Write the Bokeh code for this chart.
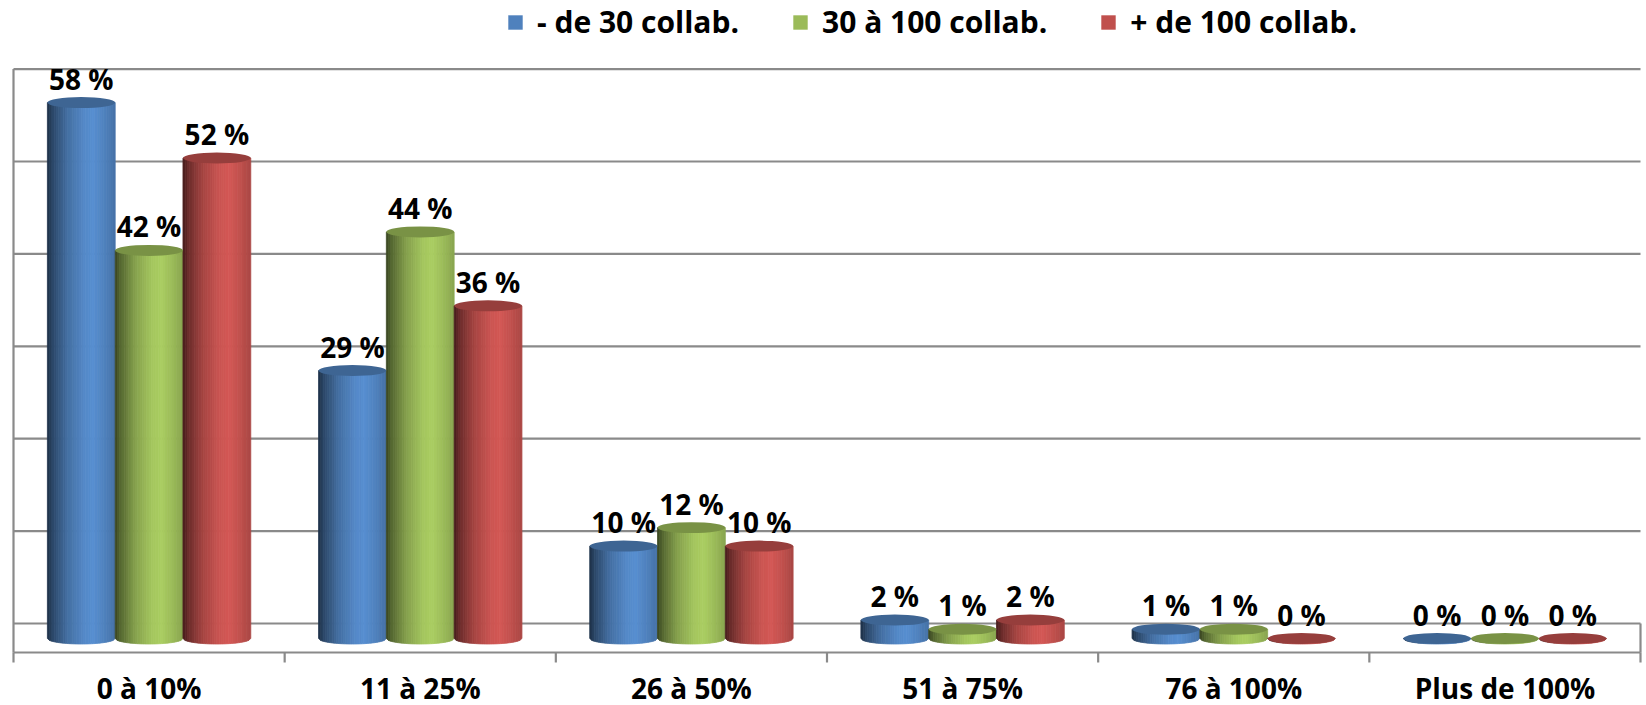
import numpy as np
from bokeh.plotting import figure
from bokeh.models import Range1d, Legend, LegendItem
from bokeh.embed import file_html
from bokeh.resources import INLINE
from bokeh.core.properties import value

# ---------------- data ----------------
categories = ["0 à 10%", "11 à 25%", "26 à 50%", "51 à 75%", "76 à 100%", "Plus de 100%"]
series_names = ["- de 30 collab.", "30 à 100 collab.", "+ de 100 collab."]
small_firms = [58, 29, 10, 2, 1, 0]
medium_firms = [42, 44, 12, 1, 1, 0]
large_firms = [52, 36, 10, 2, 0, 0]
series_values = [small_firms, medium_firms, large_firms]
series_colors = ["#4F81BD", "#9BBB59", "#C0504D"]
wall_levels = [0, 10, 20, 30, 40, 50, 60]

# ---------------- geometry / style ----------------
W, H = 1646, 705
PX_PER_PCT = 9.24
X0_PX = 13.0
CAT_PX = (1640.0 - X0_PX) / len(categories)
ZERO_PX = 638.0
WALL_OFF = 15.0 / PX_PER_PCT          # back wall lies a bit higher (depth)
FLOOR_FRONT = -14.0 / PX_PER_PCT
TICK_END = -24.0 / PX_PER_PCT
BAR_W = 0.25
OFFSETS = [-0.25, 0.0, 0.25]
ELL_PX = 11.0
E_HALF = (ELL_PX / 2) / PX_PER_PCT
FONT = "Open Sans"
GRID_COL = "#8a8a8a"

p = figure(width=W, height=H, output_backend="svg", toolbar_location=None,
           x_axis_location=None, y_axis_location=None, min_border=0,
           x_range=Range1d(-X0_PX / CAT_PX, (W - X0_PX) / CAT_PX),
           y_range=Range1d((ZERO_PX - H) / PX_PER_PCT, ZERO_PX / PX_PER_PCT))
p.outline_line_color = None
p.background_fill_color = "white"
p.border_fill_color = "white"
p.grid.visible = False

ncat = len(categories)

# ---- back wall grid lines ----
wl = [lv + WALL_OFF for lv in wall_levels]
p.segment(x0=[0] * len(wl), x1=[ncat] * len(wl), y0=wl, y1=wl, line_color=GRID_COL, line_width=2.2)
# left wall edge
p.segment(x0=[0], x1=[0], y0=[wall_levels[-1] + WALL_OFF], y1=[FLOOR_FRONT], line_color=GRID_COL, line_width=2.2)
# floor front edge and right edge
p.segment(x0=[0], x1=[ncat], y0=[FLOOR_FRONT], y1=[FLOOR_FRONT], line_color=GRID_COL, line_width=2.2)
p.segment(x0=[ncat], x1=[ncat], y0=[WALL_OFF], y1=[FLOOR_FRONT], line_color=GRID_COL, line_width=2.2)
# category boundary ticks
bounds = list(range(ncat + 1))
p.segment(x0=bounds, x1=bounds, y0=[FLOOR_FRONT] * len(bounds), y1=[TICK_END] * len(bounds),
          line_color=GRID_COL, line_width=2.2)

# ---- cylinders ----
SHADE_T = [0, 0.08, 0.3, 0.55, 0.68, 0.85, 1.0]
SHADE_F = [0.36, 0.55, 0.86, 1.06, 1.1, 1.0, 0.88]


def shade(hexcol, f):
    rgb = [int(hexcol[i:i + 2], 16) for i in (1, 3, 5)]
    return "#%02x%02x%02x" % tuple(min(255, int(round(c * f))) for c in rgb)


N = 30
t_edges = np.linspace(0, 1, N + 1)
t_mid = (t_edges[:-1] + t_edges[1:]) / 2
f_mid = np.interp(t_mid, SHADE_T, SHADE_F)

xs, ys, fills = [], [], []
top_x, top_y, top_c = [], [], []
lab_x, lab_y, lab_t = [], [], []
for si, vals in enumerate(series_values):
    col = series_colors[si]
    for ci, v in enumerate(vals):
        xc = ci + 0.5 + OFFSETS[si]
        left = xc - BAR_W / 2
        for k in range(N):
            xa = left + t_edges[k] * BAR_W
            xb = left + t_edges[k + 1] * BAR_W
            ua = (xa - xc) / (BAR_W / 2)
            ub = (xb - xc) / (BAR_W / 2)
            ba = -E_HALF * np.sqrt(max(0.0, 1 - ua * ua))
            bb = -E_HALF * np.sqrt(max(0.0, 1 - ub * ub))
            xs.append([xa, xb, xb, xa])
            ys.append([v, v, bb, ba])
            fills.append(shade(col, f_mid[k]))
        top_x.append(xc)
        top_y.append(v)
        top_c.append(shade(col, 0.78))
        lab_x.append(xc)
        lab_y.append(v)
        lab_t.append(f"{v} %")

p.patches(xs=xs, ys=ys, fill_color=fills, line_color=fills, line_width=0.8)
p.ellipse(x=top_x, y=top_y, width=BAR_W, height=ELL_PX, height_units="screen",
          fill_color=top_c, line_color=None)

# ---- data labels ----
p.text(x=lab_x, y=lab_y, text=lab_t, text_align="center", text_baseline="alphabetic",
       y_offset=-24, text_font=value(FONT), text_font_style="bold", text_font_size="28px",
       text_color="black")

# ---- category labels ----
cat_x = [i + 0.5 for i in range(ncat)]
p.text(x=cat_x, y=[(ZERO_PX - H) / PX_PER_PCT] * ncat, text=categories, text_align="center",
       text_baseline="alphabetic", y_offset=-18, text_font=value(FONT), text_font_style="bold",
       text_font_size="28px", text_color="black")

# ---- legend ----
items = []
for name, col in zip(series_names, series_colors):
    r = p.vbar(x=[np.nan], top=[np.nan], width=0.1, fill_color=col, line_color=None)
    items.append(LegendItem(label=name, renderers=[r]))
legend = Legend(items=items, orientation="horizontal", location=(506, 663),
                glyph_width=18, glyph_height=18, label_standoff=13, spacing=52,
                padding=0, margin=0, border_line_color=None, background_fill_alpha=0,
                label_text_font=FONT, label_text_font_size="30px", label_text_font_style="bold",
                label_text_color="black")
p.add_layout(legend)

open("out.html", "w").write(file_html(p, INLINE))
